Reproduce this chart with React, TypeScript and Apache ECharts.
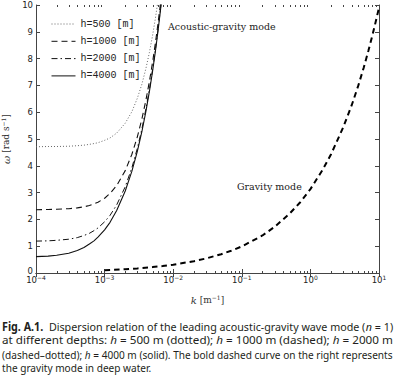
import React, { useEffect, useRef } from 'react';
import * as echarts from 'echarts';

// ---- data ----
const kAcoustic = [1e-4, 1.5e-4, 2e-4, 3e-4, 4e-4, 5e-4, 6e-4, 7e-4, 8e-4, 1e-3, 1.2e-3, 1.5e-3, 2e-3, 2.5e-3, 3e-3, 3.5e-3, 4e-3, 4.5e-3, 5e-3, 5.5e-3, 6e-3, 6.5e-3, 7e-3];
const omegaH500 = [4.71, 4.72, 4.72, 4.73, 4.75, 4.77, 4.8, 4.83, 4.86, 4.95, 5.04, 5.22, 5.59, 6.02, 6.52, 7.05, 7.63, 8.23, 8.86, 9.5, 10.16, 10.83, 11.5];
const omegaH1000 = [2.36, 2.37, 2.38, 2.4, 2.43, 2.47, 2.52, 2.58, 2.64, 2.79, 2.97, 3.26, 3.82, 4.43, 5.08, 5.75, 6.45, 7.15, 7.86, 8.58, 9.3, 10.03, 10.76];
const omegaH2000 = [1.19, 1.2, 1.22, 1.26, 1.32, 1.4, 1.48, 1.58, 1.68, 1.91, 2.15, 2.54, 3.22, 3.93, 4.65, 5.38, 6.12, 6.85, 7.59, 8.33, 9.08, 9.82, 10.57];
const omegaH4000 = [0.61, 0.63, 0.66, 0.74, 0.84, 0.95, 1.08, 1.2, 1.34, 1.61, 1.89, 2.33, 3.06, 3.8, 4.54, 5.28, 6.03, 6.78, 7.52, 8.27, 9.02, 9.77, 10.52];
const kGravity = [1e-3, 2e-3, 3e-3, 5e-3, 7e-3, 1e-2, 2e-2, 3e-2, 5e-2, 7e-2, 0.1, 0.2, 0.3, 0.5, 0.7, 1, 1.5, 2, 3, 4, 5, 6, 7, 8, 9, 10];
const omegaGravity = [0.1, 0.14, 0.17, 0.22, 0.26, 0.31, 0.44, 0.54, 0.7, 0.83, 0.99, 1.4, 1.72, 2.22, 2.62, 3.13, 3.84, 4.43, 5.43, 6.26, 7.0, 7.67, 8.29, 8.86, 9.4, 9.9];
const seriesNames = ['h=500 [m]', 'h=1000 [m]', 'h=2000 [m]', 'h=4000 [m]'];
const decadeTicks = [1e-4, 1e-3, 1e-2, 1e-1, 1, 10];
const minorMultipliers = [2, 3, 4, 5, 6, 7, 8, 9];
const annotations = [
  { text: 'Acoustic-gravity mode', k: 8.4e-3, omega: 9.18 },
  { text: 'Gravity mode', k: 0.085, omega: 3.21 },
];
const captionLines = [
  '{b|Fig. A.1.}{r|  Dispersion relation of the leading acoustic-gravity wave mode (}{i|n}{r| = 1)}',
  '{r|at different depths: }{i|h}{r| = 500 m (dotted); }{i|h}{r| = 1000 m (dashed); }{i|h}{r| = 2000 m}',
  '{r|(dashed\u2013dotted); }{i|h}{r| = 4000 m (solid). The bold dashed curve on the right represents}',
  '{r|the gravity mode in deep water.}',
];

const pair = (xs: number[], ys: number[]) => xs.map((x, i) => [x, ys[i]]);

const CAP_FONT = '"Noto Sans"';
const CAP_SIZE = 11.5;

export default function App() {
  const ref = useRef<HTMLDivElement>(null);
  useEffect(() => {
    const chart = echarts.init(ref.current!, null, { renderer: 'svg' });
    const axisColor = '#444';
    const supRich = {
      b: { fontSize: 8.5, lineHeight: 8.5, fontFamily: 'DejaVu Sans', color: '#222' },
      s: { fontSize: 6, lineHeight: 6, fontFamily: 'DejaVu Sans', color: '#222', padding: [0, 0, 4, 0] },
    };
    const nameRich = {
      w: { fontSize: 10, fontFamily: 'DejaVu Serif', color: '#333', fontStyle: 'italic' },
      i: { fontSize: 10, fontFamily: 'DejaVu Serif', color: '#333', fontStyle: 'italic' },
      t: { fontSize: 9, fontFamily: 'DejaVu Serif', color: '#333' },
      s: { fontSize: 6, fontFamily: 'DejaVu Serif', color: '#333', padding: [0, 0, 6, 0] },
    };
    const xBase = {
      type: 'log',
      logBase: 10,
      min: 1e-4,
      max: 10,
      splitLine: { show: false },
      axisLine: { show: true, lineStyle: { color: axisColor, width: 1 } },
      axisTick: { show: true, inside: true, length: 4, lineStyle: { color: axisColor } },
    };
    const yBase = {
      type: 'value',
      min: 0,
      max: 10,
      interval: 1,
      splitLine: { show: false },
      axisLine: { show: true, lineStyle: { color: axisColor, width: 1 } },
      axisTick: { show: true, inside: true, length: 4, lineStyle: { color: axisColor } },
    };
    const lineStyles = [
      { color: '#666', width: 1, type: [1, 2] },
      { color: '#111', width: 1.1, type: [6, 4] },
      { color: '#111', width: 1, type: [6, 3, 1.5, 3] },
      { color: '#111', width: 1.1, type: 'solid' },
    ];
    const omegas = [omegaH500, omegaH1000, omegaH2000, omegaH4000];
    const option: any = {
      animation: false,
      backgroundColor: '#fff',
      grid: { left: 36, right: 18, top: 5, bottom: 106, containLabel: false, outerBoundsMode: 'none' },
      legend: {
        data: seriesNames,
        orient: 'vertical',
        left: 46,
        top: 14,
        itemWidth: 24,
        itemHeight: 10,
        itemGap: 7.3,
        selectedMode: false,
        itemStyle: { opacity: 0, borderWidth: 0 },
        lineStyle: { width: 1 },
        textStyle: { fontFamily: 'Liberation Mono', fontSize: 10, color: '#222' },
      },
      xAxis: [
        {
          ...xBase,
          position: 'bottom',
          name: '{i|k}{t| [m}{s|\u22121}{t|]}',
          nameLocation: 'middle',
          nameGap: 21,
          nameTextStyle: { rich: nameRich },
          axisLabel: {
            margin: 2.5,
            formatter: (v: number) => {
              const e = Math.round(Math.log10(v));
              return `{b|10}{s|${e < 0 ? '\u2212' : ''}${Math.abs(e)}}`;
            },
            rich: supRich,
          },
        },
        { ...xBase, position: 'top', axisLabel: { show: false } },
      ],
      yAxis: [
        {
          ...yBase,
          position: 'left',
          name: '{w|\u03c9}{t| [rad s}{s|\u22121}{t|]}',
          nameLocation: 'middle',
          nameGap: 21,
          nameRotate: 90,
          nameTextStyle: { rich: nameRich },
          axisLabel: {
            margin: 3,
            fontSize: 8.5,
            fontFamily: 'DejaVu Sans',
            color: '#222',
            formatter: (v: number) => (v === 0 ? '{z|0}' : `{n|${v}}`),
            rich: {
              n: { fontSize: 8.5, fontFamily: 'DejaVu Sans', color: '#222' },
              z: { fontSize: 8.5, fontFamily: 'DejaVu Sans', color: '#222', padding: [0, 0, 5, 0] },
            },
          },
        },
        { ...yBase, position: 'right', axisLabel: { show: false } },
      ],
      series: [
        ...seriesNames.map((name, i) => ({
          name,
          type: 'line',
          data: pair(kAcoustic, omegas[i]),
          showSymbol: false,
          symbol: 'none',
          smooth: false,
          clip: true,
          lineStyle: lineStyles[i],
          itemStyle: { color: lineStyles[i].color },
          z: 3,
        })),
        {
          name: 'Gravity mode',
          type: 'line',
          data: pair(kGravity, omegaGravity),
          showSymbol: false,
          symbol: 'none',
          clip: true,
          lineStyle: { color: '#000', width: 2, type: [5.5, 4] },
          itemStyle: { color: '#000' },
          z: 3,
        },
      ],
    };
    chart.setOption(option);

    const graphics: any[] = [];
    const yBot = chart.convertToPixel({ yAxisIndex: 0 }, 0) as number;
    const yTop = chart.convertToPixel({ yAxisIndex: 0 }, 10) as number;
    decadeTicks.slice(0, -1).forEach((d) => {
      minorMultipliers.forEach((m) => {
        const x = Math.round(chart.convertToPixel({ xAxisIndex: 0 }, d * m) as number) + 0.5;
        graphics.push({ type: 'line', silent: true, shape: { x1: x, y1: yBot, x2: x, y2: yBot - 2 }, style: { stroke: axisColor, lineWidth: 1 } });
        graphics.push({ type: 'line', silent: true, shape: { x1: x, y1: yTop, x2: x, y2: yTop + 2 }, style: { stroke: axisColor, lineWidth: 1 } });
      });
    });
    annotations.forEach((a) => {
      const p = chart.convertToPixel({ gridIndex: 0 }, [a.k, a.omega]) as number[];
      graphics.push({
        type: 'text',
        x: p[0],
        y: p[1],
        silent: true,
        style: { text: a.text, fontFamily: 'DejaVu Serif', fontSize: 9.5, fill: '#222', textAlign: 'left', textVerticalAlign: 'middle' },
      });
    });

    // caption
    const canvas = document.createElement('canvas');
    const ctx = canvas.getContext('2d')!;
    const fontFor = (tag: string) =>
      tag === 'b' ? `bold ${CAP_SIZE}px ${CAP_FONT}` : tag === 'i' ? `italic ${CAP_SIZE}px ${CAP_FONT}` : `${CAP_SIZE}px ${CAP_FONT}`;
    const measure = (line: string) => {
      let w = 0;
      const re = /\{(\w)\|([^}]*)\}/g;
      let m;
      while ((m = re.exec(line))) {
        ctx.font = fontFor(m[1]);
        w += ctx.measureText(m[2]).width;
      }
      return w;
    };
    const capLeft = 2;
    const capWidth = 391;
    const capY = [326, 340, 354, 367.5];
    const scales = captionLines.map((l) => capWidth / measure(l));
    const capRich = {
      b: { fontFamily: CAP_FONT, fontSize: CAP_SIZE, fontWeight: 'bold', color: '#231f20' },
      i: { fontFamily: CAP_FONT, fontSize: CAP_SIZE, fontStyle: 'italic', color: '#231f20' },
      r: { fontFamily: CAP_FONT, fontSize: CAP_SIZE, color: '#231f20' },
    };
    captionLines.forEach((line, i) => {
      const sx = i === captionLines.length - 1 ? scales[i - 1] : scales[i];
      graphics.push({
        type: 'text',
        x: capLeft,
        y: capY[i],
        scaleX: sx,
        silent: true,
        style: { text: line, rich: capRich, fill: '#231f20', textAlign: 'left', textVerticalAlign: 'middle' },
      });
    });

    chart.setOption({ graphic: graphics });
    return () => chart.dispose();
  }, []);
  return <div ref={ref} style={{ position: 'absolute', left: 0, top: 0, width: 397, height: 379, background: '#fff' }} />;
}
